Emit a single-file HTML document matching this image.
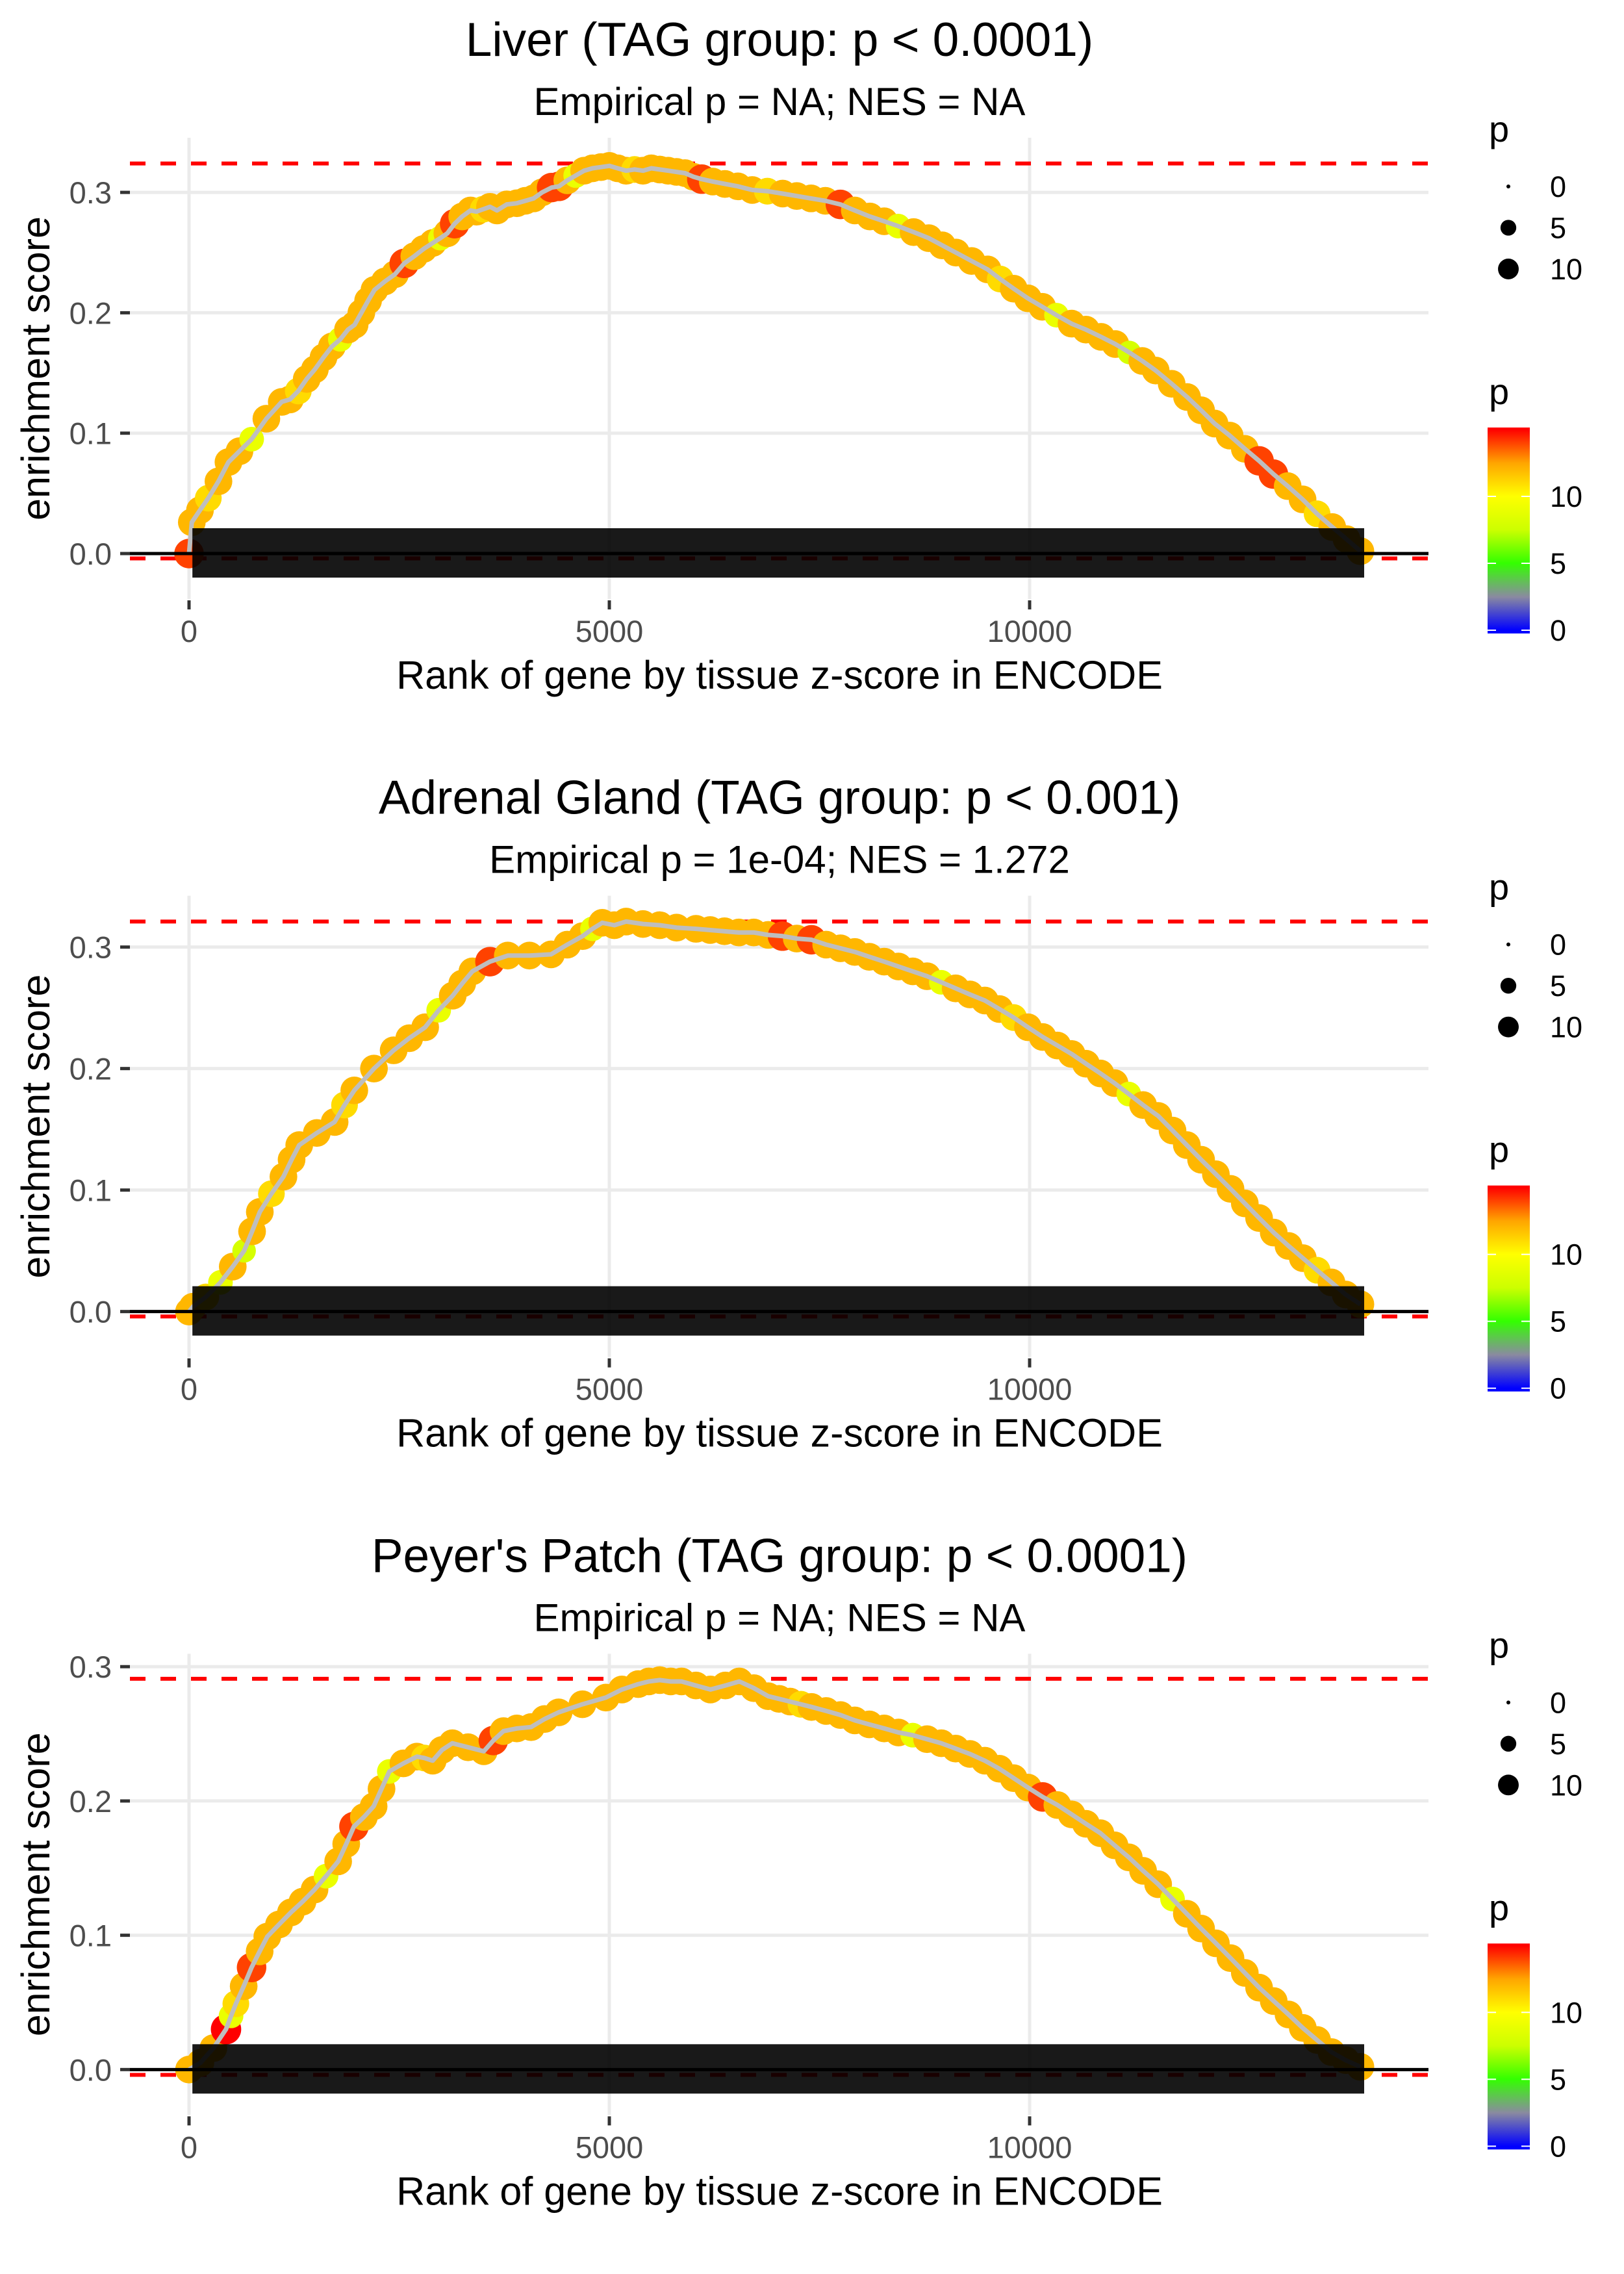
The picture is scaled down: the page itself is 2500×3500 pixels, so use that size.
<!DOCTYPE html>
<html><head><meta charset="utf-8"><title>Enrichment plots</title>
<style>html,body{margin:0;padding:0;background:#fff;}svg{display:block;}</style></head>
<body>
<svg id="chart" xmlns="http://www.w3.org/2000/svg" width="2500" height="3500" viewBox="0 0 2500 3500" font-family="Liberation Sans, Arial, sans-serif"></svg>
<script>
// ---------- data ----------
const panelTitles = ["Liver (TAG group: p < 0.0001)", "Adrenal Gland (TAG group: p < 0.001)", "Peyer's Patch (TAG group: p < 0.0001)"];
const panelSubtitles = ["Empirical p = NA; NES = NA", "Empirical p = 1e-04; NES = 1.272", "Empirical p = NA; NES = NA"];
const xTicks = [0, 5000, 10000];
const xTickLabels = ["0", "5000", "10000"];
const yTicks = [0, 0.1, 0.2, 0.3];
const yTickLabels = ["0.0", "0.1", "0.2", "0.3"];
const maxES = [0.324, 0.321, 0.291];
const minES = [-0.003, -0.003, -0.003];
const rugStart = [40, 40, 40];
const rugEnd = [13980, 13980, 13980];

const liverRank = [0,33,130,229,350,469,600,745,920,1103,1200,1300,1400,1497,1600,1700,1800,1891,1970,2050,2130,2206,2330,2450,2560,2680,2790,2900,2990,3073,3160,3250,3349,3420,3500,3580,3664,3780,3900,4000,4100,4200,4313,4400,4500,4600,4700,4800,4900,5000,5100,5200,5300,5400,5500,5600,5700,5800,5900,6000,6100,6230,6375,6530,6700,6880,7062,7230,7400,7570,7749,7920,8100,8270,8436,8620,8800,8960,9124,9310,9500,9650,9811,9980,10150,10320,10498,10670,10850,11020,11186,11340,11500,11690,11873,12040,12200,12380,12560,12730,12900,13070,13247,13420,13600,13770,13935];
const liverES = [0,0.026,0.036,0.046,0.060,0.076,0.085,0.095,0.112,0.126,0.128,0.135,0.145,0.153,0.163,0.172,0.178,0.186,0.190,0.200,0.210,0.219,0.226,0.232,0.241,0.247,0.253,0.258,0.262,0.266,0.274,0.280,0.285,0.284,0.286,0.288,0.285,0.290,0.291,0.293,0.295,0.300,0.304,0.305,0.310,0.314,0.318,0.320,0.321,0.322,0.320,0.318,0.319,0.318,0.320,0.319,0.318,0.317,0.316,0.313,0.311,0.309,0.307,0.305,0.302,0.301,0.299,0.297,0.295,0.293,0.290,0.285,0.280,0.276,0.272,0.267,0.262,0.256,0.250,0.243,0.236,0.228,0.220,0.212,0.205,0.198,0.191,0.186,0.180,0.174,0.167,0.160,0.152,0.141,0.130,0.119,0.108,0.098,0.087,0.077,0.066,0.056,0.045,0.033,0.022,0.012,0.002];
const liverP = [14,12,12,11,12,12,12,9,12,12,12,11,12,12,12,12,9,12,12,12,12,12,12,12,14,12,12,12,9,12,14,12,12,12,11,12,12,12,12,12,12,12,14,14,12,9,12,12,12,12,12,12,11,12,12,12,12,12,12,12,14,12,12,12,12,11,12,12,12,12,14,12,12,12,9,12,12,12,12,12,12,11,12,12,12,9,12,12,12,12,8,12,12,12,12,12,12,12,12,14,14,12,12,11,12,12,12];

const adrenalRank = [0,46,200,374,520,655,750,842,980,1123,1220,1311,1520,1732,1850,1966,2200,2434,2620,2809,2970,3137,3250,3371,3580,3792,4050,4307,4500,4682,4800,4916,5060,5200,5400,5600,5800,6031,6200,6370,6540,6718,6890,7060,7230,7405,7580,7750,7920,8093,8270,8440,8610,8780,8950,9120,9290,9467,9640,9810,9980,10155,10330,10500,10670,10842,11010,11180,11350,11529,11700,11870,12040,12216,12390,12560,12730,12904,13080,13250,13420,13591,13760,13935];
const adrenalES = [0,0.004,0.012,0.024,0.037,0.050,0.066,0.082,0.097,0.111,0.125,0.137,0.147,0.156,0.170,0.182,0.200,0.215,0.225,0.234,0.248,0.260,0.270,0.280,0.288,0.293,0.293,0.294,0.302,0.309,0.315,0.320,0.318,0.321,0.319,0.318,0.316,0.315,0.314,0.313,0.312,0.312,0.310,0.309,0.307,0.306,0.302,0.299,0.296,0.292,0.288,0.284,0.280,0.276,0.271,0.266,0.261,0.256,0.249,0.242,0.234,0.226,0.219,0.212,0.204,0.196,0.188,0.179,0.170,0.161,0.149,0.137,0.125,0.113,0.101,0.089,0.077,0.065,0.054,0.044,0.034,0.024,0.014,0.006];
const adrenalP = [12,12,11,9,12,8,12,12,11,12,12,12,12,12,11,12,12,12,12,12,9,12,12,12,14,12,12,12,12,12,9,12,12,12,12,12,12,12,12,12,12,12,12,14,12,14,12,12,12,12,12,12,12,12,9,12,12,12,12,11,12,12,12,12,12,12,12,9,12,12,12,12,12,12,12,12,12,12,12,12,11,12,12,12];

const peyerRank = [0,135,290,440,500,557,650,744,840,931,1070,1212,1350,1493,1630,1774,1870,1962,2080,2196,2290,2383,2550,2711,2800,2899,3010,3133,3320,3507,3620,3741,3900,4069,4230,4397,4680,4959,5150,5344,5470,5600,5730,5859,6030,6203,6380,6546,6720,6890,7020,7150,7280,7405,7580,7750,7920,8093,8270,8440,8610,8780,8950,9120,9290,9467,9640,9810,9980,10155,10330,10500,10670,10842,11010,11180,11350,11529,11700,11870,12040,12216,12390,12560,12730,12904,13080,13250,13420,13591,13760,13935];
const peyerES = [0,0.005,0.016,0.030,0.040,0.049,0.062,0.076,0.088,0.099,0.108,0.117,0.125,0.134,0.144,0.155,0.168,0.181,0.188,0.196,0.209,0.222,0.228,0.233,0.232,0.230,0.238,0.243,0.240,0.237,0.245,0.252,0.254,0.255,0.261,0.266,0.272,0.277,0.283,0.287,0.289,0.290,0.289,0.289,0.286,0.283,0.286,0.289,0.284,0.278,0.276,0.274,0.272,0.270,0.267,0.264,0.260,0.257,0.254,0.251,0.249,0.246,0.243,0.239,0.235,0.230,0.224,0.217,0.210,0.203,0.197,0.190,0.183,0.176,0.167,0.158,0.148,0.138,0.127,0.116,0.105,0.094,0.083,0.072,0.061,0.051,0.041,0.031,0.022,0.013,0.007,0.002];
const peyerP = [12,12,12,15,9,11,12,14,12,12,12,12,12,12,9,12,12,14,12,12,12,9,12,12,11,12,12,12,12,12,14,12,12,12,12,12,12,12,12,12,12,12,12,12,12,12,12,12,12,12,12,12,11,12,12,12,12,12,12,12,9,12,12,12,12,12,12,12,12,14,12,12,12,12,12,12,12,12,9,12,12,12,12,12,12,12,12,12,12,12,12,12];

const sizeLegendValues = [0, 5, 10];
const colorLegendValues = [0, 5, 10];

// ---------- layout ----------
const NS = "http://www.w3.org/2000/svg";
const svg = document.getElementById("chart");
const panelH = 3500 / 3;
const plotL = 200, plotR = 2199, plotT = 212, plotB = 922;
const zeroY = 852;
const perUnit = [1853, 1870, 2067];
const ranks = [liverRank, adrenalRank, peyerRank];
const esVals = [liverES, adrenalES, peyerES];
const pSeries = [liverP, adrenalP, peyerP];
const panelKeys = ["liver", "adrenal-gland", "peyers-patch"];

function xScale(v) { return 291 + v * 0.1294; }
function mk(tag, attrs, parent) {
  const e = document.createElementNS(NS, tag);
  for (const k in attrs) e.setAttribute(k, attrs[k]);
  (parent || svg).appendChild(e);
  return e;
}
const stops = [[0,[0,0,255]],[2.5,[138,138,160]],[5,[51,255,0]],[7.5,[204,255,0]],[10,[255,255,0]],[12.5,[255,165,0]],[15,[255,0,0]]];
function pColor(p) {
  for (let i = 0; i < stops.length - 1; i++) {
    const a = stops[i], b = stops[i + 1];
    if (p <= b[0]) {
      const t = Math.max(0, (p - a[0]) / (b[0] - a[0]));
      const c = a[1].map((v, j) => Math.round(v + (b[1][j] - v) * t));
      return "rgb(" + c.join(",") + ")";
    }
  }
  return "rgb(255,0,0)";
}
function pRadius(p) { return 3 + Math.sqrt(Math.max(p, 0)) * 4.1; }
function dotRadius(p) { return 4 + Math.sqrt(Math.max(p, 0)) * 5.0; }

for (let k = 0; k < 3; k++) {
  const off = k * panelH;
  const yScale = v => off + zeroY - v * perUnit[k];
  const g = mk("g", {});
  
  

  const title = mk("text", {x: 1200, y: off + 86, "text-anchor": "middle", "font-size": 73, fill: "#000"}, g);
  title.textContent = panelTitles[k];
  
  
  const sub = mk("text", {x: 1200, y: off + 177, "text-anchor": "middle", "font-size": 60, fill: "#000"}, g);
  sub.textContent = panelSubtitles[k];
  
  

  yTicks.forEach((t, i) => {
    const gl = mk("line", {x1: plotL, x2: plotR, y1: yScale(t), y2: yScale(t), stroke: "#EBEBEB", "stroke-width": 5}, g);
    
    
    const tm = mk("line", {x1: 185, x2: 200, y1: yScale(t), y2: yScale(t), stroke: "#333", "stroke-width": 5}, g);
    
    
    const tl = mk("text", {x: 172, y: yScale(t) + 17, "text-anchor": "end", "font-size": 47, fill: "#4D4D4D"}, g);
    tl.textContent = yTickLabels[i];
    
    
  });
  xTicks.forEach((t, i) => {
    const gl = mk("line", {x1: xScale(t), x2: xScale(t), y1: off + plotT, y2: off + plotB, stroke: "#EBEBEB", "stroke-width": 5}, g);
    
    
    const tm = mk("line", {x1: xScale(t), x2: xScale(t), y1: off + 924, y2: off + 938, stroke: "#333", "stroke-width": 5}, g);
    
    
    const tl = mk("text", {x: xScale(t), y: off + 988, "text-anchor": "middle", "font-size": 47, fill: "#4D4D4D"}, g);
    tl.textContent = xTickLabels[i];
    
    
  });

  const dTop = mk("line", {x1: plotL, x2: plotR, y1: yScale(maxES[k]), y2: yScale(maxES[k]), stroke: "#FF0000", "stroke-width": 6, "stroke-dasharray": "24 23"}, g);
  
  
  const dBot = mk("line", {x1: plotL, x2: plotR, y1: yScale(minES[k]) + 2, y2: yScale(minES[k]) + 2, stroke: "#FF0000", "stroke-width": 6, "stroke-dasharray": "24 23"}, g);
  
  

  const R = ranks[k], E = esVals[k], P = pSeries[k];
  for (let i = 0; i < R.length; i++) {
    const p = (P[i] === undefined) ? 12 : P[i];
    const c = mk("circle", {cx: xScale(R[i]), cy: yScale(E[i]), r: dotRadius(p), fill: pColor(p)}, g);
    
    
  }
  const pts = R.map((r, i) => xScale(r).toFixed(1) + "," + yScale(E[i]).toFixed(1)).join(" ");
  const pl = mk("polyline", {points: pts, fill: "none", stroke: "#BEBEBE", "stroke-width": 7, "stroke-linejoin": "round"}, g);
  
  

  const rug = mk("rect", {x: xScale(rugStart[k]), y: yScale(0) - 39, width: xScale(rugEnd[k]) - xScale(rugStart[k]), height: 76, fill: "#000", "fill-opacity": 0.9}, g);
  
  
  const zl = mk("line", {x1: plotL, x2: plotR, y1: yScale(0), y2: yScale(0), stroke: "#000", "stroke-width": 5}, g);
  
  

  const xt = mk("text", {x: 1200, y: off + 1060, "text-anchor": "middle", "font-size": 61, fill: "#000"}, g);
  xt.textContent = "Rank of gene by tissue z-score in ENCODE";
  
  
  const yt = mk("text", {x: 0, y: 0, "text-anchor": "middle", "font-size": 61, fill: "#000", transform: "translate(76," + (off + 567) + ") rotate(-90)"}, g);
  yt.textContent = "enrichment score";
  
  

  const sl = mk("text", {x: 2292, y: off + 218, "font-size": 56, fill: "#000"}, g);
  sl.textContent = "p";
  
  
  sizeLegendValues.forEach((v, i) => {
    const cy = off + 287 + i * 63.5;
    const c = mk("circle", {cx: 2322, cy: cy, r: pRadius(v), fill: "#000"}, g);
    
    
    const t = mk("text", {x: 2386, y: cy + 16, "font-size": 45, fill: "#000"}, g);
    t.textContent = String(v);
    
    
  });

  const cl = mk("text", {x: 2292, y: off + 622, "font-size": 56, fill: "#000"}, g);
  cl.textContent = "p";
  
  
  const gid = "grad" + k;
  const defs = mk("defs", {}, g);
  const lg = mk("linearGradient", {id: gid, x1: 0, y1: 1, x2: 0, y2: 0}, defs);
  const cbTop = off + 658, cbBot = off + 975, cb0 = off + 970, cbPer = 20.6;
  stops.forEach(s => {
    const frac = (cbBot - (cb0 - s[0] * cbPer)) / (cbBot - cbTop);
    mk("stop", {offset: Math.min(1, frac).toFixed(3), "stop-color": "rgb(" + s[1].join(",") + ")"}, lg);
  });
  const bar = mk("rect", {x: 2290, y: cbTop, width: 65, height: cbBot - cbTop, fill: "url(#" + gid + ")"}, g);
  
  
  colorLegendValues.forEach(v => {
    const ty = cb0 - v * cbPer;
    mk("line", {x1: 2290, x2: 2303, y1: ty, y2: ty, stroke: "#fff", "stroke-width": 2}, g);
    mk("line", {x1: 2342, x2: 2355, y1: ty, y2: ty, stroke: "#fff", "stroke-width": 2}, g);
    const t = mk("text", {x: 2386, y: ty + 16, "font-size": 45, fill: "#000"}, g);
    t.textContent = String(v);
    
    
  });
}
</script>
</body></html>
